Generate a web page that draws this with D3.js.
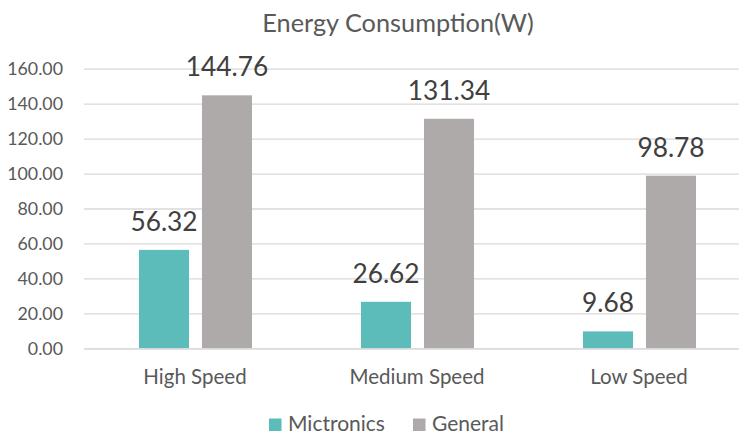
<!DOCTYPE html>
<html>
<head>
<meta charset="utf-8">
<script src="https://cdn.jsdelivr.net/npm/d3@7"></script>
<style>
  body { margin: 0; background: #fff; }
  svg { display: block; font-family: Lato, "Open Sans", sans-serif; }
</style>
</head>
<body>
<div id="chart"></div>
<script>
const categories = ["High Speed", "Medium Speed", "Low Speed"];
const seriesNames = ["Mictronics", "General"];
const mictronics = [56.32, 26.62, 9.68];
const general = [144.76, 131.34, 98.78];
const yTicks = [0, 20, 40, 60, 80, 100, 120, 140, 160];
const colors = ["#5bbcba", "#aeaaa9"];

const width = 739, height = 434;
const svg = d3.select("#chart").append("svg")
  .attr("width", width)
  .attr("height", height);

const x = d3.scaleBand().domain(categories).range([84, 750]);
const y = d3.scaleLinear().domain([0, 160]).range([348.3, 68.7]);
const inner = d3.scaleBand().domain(seriesNames).range([55, 168]).paddingInner(0.206);

// gridlines
const axisY = d3.axisLeft(y).tickValues(yTicks).tickSize(-(750 - 84))
  .tickFormat(d3.format(".2f"));
const gy = svg.append("g").attr("transform", "translate(84,0)").call(axisY);
gy.select(".domain").remove();
gy.selectAll(".tick line").attr("stroke", "#d9d9d9").attr("stroke-width", 1.3);
gy.selectAll(".tick text")
  .attr("x", -21)
  .attr("fill", "#595959")
  .attr("font-size", 17.8)
  .attr("font-family", "Lato, sans-serif");

// bars
const rows = categories.map((c, i) => ({ cat: c, vals: [mictronics[i], general[i]] }));
const groups = svg.append("g").selectAll("g")
  .data(rows)
  .enter()
  .append("g")
  .attr("transform", d => `translate(${x(d.cat)},0)`);

groups.selectAll("rect")
  .data(d => d.vals.map((v, j) => ({ name: seriesNames[j], v, j })))
  .enter()
  .append("rect")
  .attr("x", d => inner(d.name))
  .attr("width", inner.bandwidth())
  .attr("y", d => y(d.v))
  .attr("height", d => y(0) - y(d.v))
  .attr("fill", d => colors[d.j]);

groups.selectAll("text.val")
  .data(d => d.vals.map((v, j) => ({ name: seriesNames[j], v, j })))
  .enter()
  .append("text")
  .attr("class", "val")
  .attr("x", d => inner(d.name) + inner.bandwidth() / 2)
  .attr("y", d => y(d.v) - 19)
  .attr("text-anchor", "middle")
  .attr("font-size", 26.3)
  .attr("fill", "#404040")
  .text(d => d3.format(".2f")(d.v));

// category axis
const axisX = d3.axisBottom(x).tickSize(0).tickPadding(0);
const gx = svg.append("g").attr("transform", "translate(0,348.3)").call(axisX);
gx.select(".domain").attr("stroke", "#d9d9d9").attr("stroke-width", 1.3);
gx.selectAll(".tick text")
  .attr("dy", 0)
  .attr("y", 36)
  .attr("fill", "#595959")
  .attr("font-size", 20.5)
  .attr("font-family", "Lato, sans-serif");

// title
svg.append("text")
  .attr("x", 398)
  .attr("y", 32)
  .attr("text-anchor", "middle")
  .attr("font-size", 25.3)
  .attr("fill", "#595959")
  .text("Energy Consumption(W)");

// legend
const legend = svg.append("g").attr("transform", "translate(269,418)");
const legendPos = [0, 144];
const items = legend.selectAll("g")
  .data(seriesNames)
  .enter()
  .append("g")
  .attr("transform", (d, i) => `translate(${legendPos[i]},0)`);
items.append("rect").attr("y", 0.5).attr("width", 12.5).attr("height", 12.5).attr("fill", (d, i) => colors[i]);
items.append("text")
  .attr("x", 19)
  .attr("y", 12.5)
  .attr("font-size", 21)
  .attr("fill", "#595959")
  .text(d => d);
</script>
</body>
</html>
